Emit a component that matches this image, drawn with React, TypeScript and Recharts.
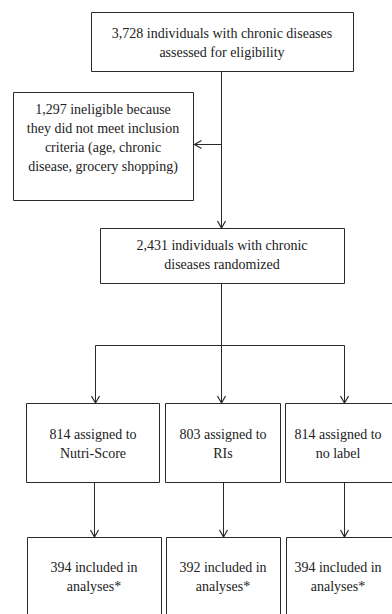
import React from 'react';
import { ScatterChart, Scatter, XAxis, YAxis, ReferenceArea, ReferenceLine } from 'recharts';

// Flowchart node texts
const nodeTexts: string[][] = [
  ['3,728 individuals with chronic diseases', 'assessed for eligibility'],
  ['1,297 ineligible because', 'they did not meet inclusion', 'criteria (age, chronic', 'disease, grocery shopping)'],
  ['2,431 individuals with chronic', 'diseases randomized'],
  ['814 assigned to', 'Nutri-Score'],
  ['803 assigned to', 'RIs'],
  ['814 assigned to', 'no label'],
  ['394 included in', 'analyses*'],
  ['392 included in', 'analyses*'],
  ['394 included in', 'analyses*'],
];

// Box extents (x1, x2, y1, y2) in chart units and text anchor (tx, ty)
const boxX1 = [91.5, 13.5, 100.5, 26.5, 165.5, 285.5, 27.5, 166.5, 286.5];
const boxX2 = [353.5, 193.5, 344.5, 159.5, 280.5, 396, 161.5, 280.5, 396];
const boxY1 = [12.5, 92.5, 228.5, 403.5, 403.5, 403.5, 537.5, 537.5, 537.5];
const boxY2 = [71.5, 200.5, 283.5, 482.5, 482.5, 482.5, 620, 620, 620];
const textX = [222, 103, 222, 93, 223, 338, 94, 223, 338];
const textY = [42, 137.5, 254, 443.5, 443.5, 443.5, 576.5, 576.5, 576.5];

// Connector segments [x1, y1, x2, y2]
const connectors: number[][] = [
  [221.5, 71.5, 221.5, 228],
  [221.5, 144.5, 194, 144.5],
  [221.5, 283.5, 221.5, 345.5],
  [95.5, 345.5, 344.5, 345.5],
  [95.5, 345.5, 95.5, 403],
  [221.5, 345.5, 221.5, 403],
  [344.5, 345.5, 344.5, 403],
  [94.5, 482.5, 94.5, 537],
  [223.5, 482.5, 223.5, 537],
  [344.5, 482.5, 344.5, 537],
];

// Arrow tips (x, y, direction)
const arrowX = [221.5, 194.5, 95.5, 221.5, 344.5, 94.5, 223.5, 344.5];
const arrowY = [228, 144.5, 403, 403, 403, 537, 537, 537];
const arrowDir = ['down', 'left', 'down', 'down', 'down', 'down', 'down', 'down'];

const textData = nodeTexts.map((lines, i) => ({ x: textX[i], y: textY[i], lines }));
const arrowData = arrowX.map((x, i) => ({ x, y: arrowY[i], dir: arrowDir[i] }));

const STROKE = '#2a2a2a';
const FONT = 'Liberation Serif';
const LINE_H = 19;

const TextShape = (props: any) => {
  const { cx, cy, payload } = props;
  const lines: string[] = payload.lines;
  const start = cy - ((lines.length - 1) * LINE_H) / 2;
  return (
    <g>
      {lines.map((l, i) => (
        <text
          key={i}
          x={cx}
          y={start + i * LINE_H + 5}
          textAnchor="middle"
          fontFamily={FONT}
          fontSize={14}
          fill="#222"
        >
          {l}
        </text>
      ))}
    </g>
  );
};

const ArrowShape = (props: any) => {
  const { cx, cy, payload } = props;
  const d =
    payload.dir === 'left'
      ? `M${cx + 7},${cy - 4} L${cx},${cy} L${cx + 7},${cy + 4}`
      : `M${cx - 4},${cy - 7} L${cx},${cy} L${cx + 4},${cy - 7}`;
  return <path d={d} stroke={STROKE} strokeWidth={1.2} fill="none" />;
};

export default function App() {
  return (
    <div style={{ position: 'absolute', left: 0, top: 0, width: 392, height: 614, background: '#fff' }}>
      <ScatterChart width={392} height={614} margin={{ top: 0, right: 0, bottom: 0, left: 0 }}>
        <XAxis type="number" dataKey="x" domain={[0, 392]} hide allowDataOverflow />
        <YAxis type="number" dataKey="y" domain={[0, 614]} reversed hide allowDataOverflow />
        {boxX1.map((x1, i) => (
          <ReferenceArea
            key={'b' + i}
            x1={x1}
            x2={boxX2[i]}
            y1={boxY1[i]}
            y2={boxY2[i]}
            fill="#fff"
            fillOpacity={1}
            stroke={STROKE}
            strokeWidth={1}
            ifOverflow="hidden"
          />
        ))}
        {connectors.map((c, i) => (
          <ReferenceLine
            key={'l' + i}
            segment={[{ x: c[0], y: c[1] }, { x: c[2], y: c[3] }]}
            stroke={STROKE}
            strokeWidth={1}
          />
        ))}
        <Scatter data={arrowData} shape={ArrowShape} isAnimationActive={false} />
        <Scatter data={textData} shape={TextShape} isAnimationActive={false} />
      </ScatterChart>
    </div>
  );
}
